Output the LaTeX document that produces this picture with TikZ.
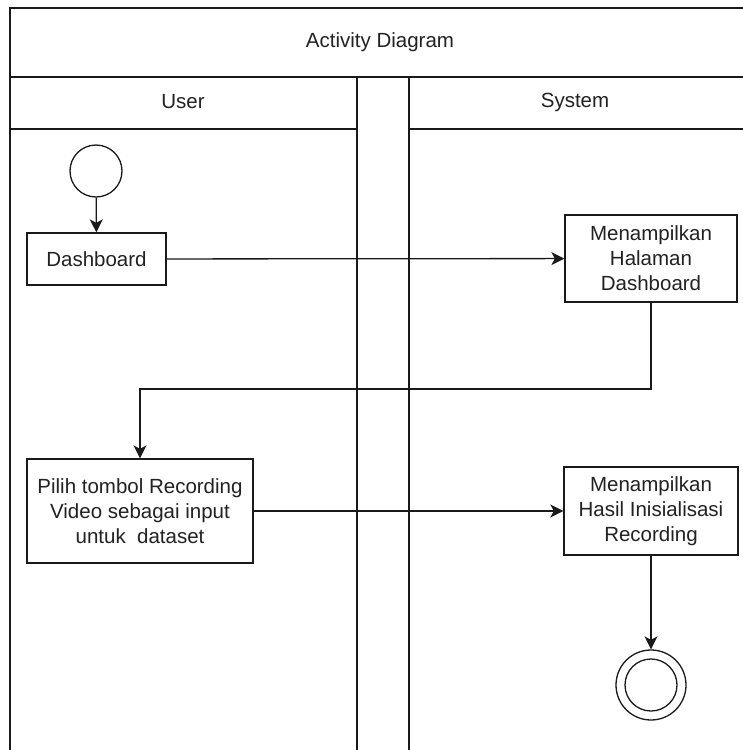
\documentclass[tikz,border=0pt]{standalone}
\usepackage{fontspec}
\setmainfont{Liberation Sans}
\usetikzlibrary{arrows.meta}
\definecolor{ink}{HTML}{1A1A1A}
\definecolor{txt}{HTML}{222222}
\tikzset{
  lane/.style={draw=ink, line width=1.3pt},
  actbox/.style={draw=ink, line width=1.3pt, fill=white, rectangle, inner sep=0pt,
    align=center, text=txt, font=\fontsize{20.5}{25}\selectfont},
  startdot/.style={draw=ink, line width=1.3pt, circle, minimum size=52pt, inner sep=0pt},
  ringdot/.style={draw=ink, line width=1.3pt, circle, inner sep=0pt},
  flow/.style={draw=ink, line width=1.3pt, -{Stealth[length=13pt,width=13pt,inset=3.5pt]}},
  hdr/.style={text=txt, font=\fontsize{20.5}{25}\selectfont, inner sep=0pt}
}
\begin{document}
\begin{tikzpicture}[x=1pt, y=-1pt]
\useasboundingbox (0,0) rectangle (743,750);
\fill[white] (0,0) rectangle (743,750);

% swimlane frame
\draw[lane] (10,760) -- (10,8) -- (760,8);
\draw[lane] (10,77) -- (760,77);
\draw[lane] (357,77) -- (357,760);
\draw[lane] (409,77) -- (409,760);
\draw[lane] (10,129) -- (357,129);
\draw[lane] (409,129) -- (760,129);

% headers
\node[hdr] (title) at (380,42) {Activity Diagram};
\node[hdr] (user) at (183,102) {User};
\node[hdr] (system) at (575,102) {System};

% activities
\node[startdot] (start) at (96,171) {};
\node[actbox, minimum width=139pt, minimum height=52pt] (dash) at (96.5,259) {Dashboard};
\node[actbox, minimum width=172pt, minimum height=87pt] (show1) at (651,258.5)
  {Menampilkan\\Halaman\\Dashboard};
\node[actbox, minimum width=226pt, minimum height=104pt] (pick) at (140,511)
  {Pilih tombol Recording\\Video sebagai input\\untuk\ \ dataset};
\node[actbox, minimum width=174pt, minimum height=88pt] (show2) at (651,511)
  {Menampilkan\\Hasil Inisialisasi\\Recording};
\node[ringdot, minimum size=70pt] (end) at (651,685) {};
\node[ringdot, minimum size=52pt] (endin) at (651,685) {};

% control flow
\draw[flow] (start) -- (dash);
\draw[flow] (dash) -- (show1);
\coordinate (bendA) at (651,389);
\coordinate (bendB) at (140,389);
\draw[flow] (show1.south) -- (bendA) -- (bendB) -- (pick.north);
\draw[flow] (pick) -- (show2);
\draw[flow] (show2) -- (end);
\end{tikzpicture}
\end{document}
